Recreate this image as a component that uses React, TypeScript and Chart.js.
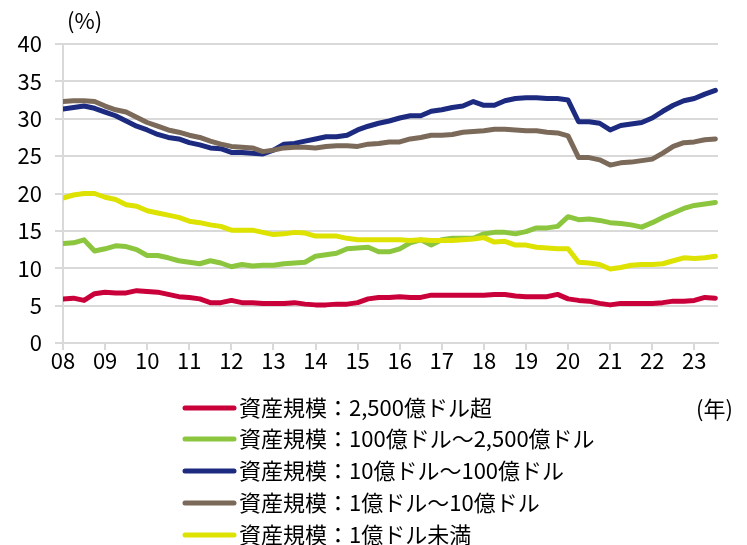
import React, { useEffect, useRef } from "react";
import { Chart, registerables } from "chart.js";

Chart.register(...registerables);

// Quarterly data, 2008Q1 .. 2023Q3 (63 quarters)
const yearLabels = ["08", "09", "10", "11", "12", "13", "14", "15", "16", "17", "18", "19", "20", "21", "22", "23"];
const yTicks = [0, 5, 10, 15, 20, 25, 30, 35, 40];

const seriesNames = [
  "資産規模：2,500億ドル超",
  "資産規模：100億ドル〜2,500億ドル",
  "資産規模：10億ドル〜100億ドル",
  "資産規模：1億ドル〜10億ドル",
  "資産規模：1億ドル未満",
];

const over250b = [
  5.9, 6.0, 5.7, 6.6, 6.8, 6.7, 6.7, 7.0, 6.9, 6.8, 6.5, 6.2, 6.1, 5.9, 5.4, 5.4,
  5.7, 5.4, 5.4, 5.3, 5.3, 5.3, 5.4, 5.2, 5.1, 5.1, 5.2, 5.2, 5.4, 5.9, 6.1, 6.1,
  6.2, 6.1, 6.1, 6.4, 6.4, 6.4, 6.4, 6.4, 6.4, 6.5, 6.5, 6.3, 6.2, 6.2, 6.2, 6.5,
  5.9, 5.7, 5.6, 5.3, 5.1, 5.3, 5.3, 5.3, 5.3, 5.4, 5.6, 5.6, 5.7, 6.1, 6.0,
];
const from10bTo250b = [
  13.3, 13.4, 13.8, 12.3, 12.6, 13.0, 12.9, 12.5, 11.7, 11.7, 11.4, 11.0, 10.8, 10.6, 11.0, 10.7,
  10.2, 10.5, 10.3, 10.4, 10.4, 10.6, 10.7, 10.8, 11.6, 11.8, 12.0, 12.6, 12.7, 12.8, 12.2, 12.2,
  12.6, 13.4, 13.8, 13.1, 13.8, 14.0, 14.0, 14.0, 14.6, 14.8, 14.8, 14.6, 14.9, 15.4, 15.4, 15.6,
  16.9, 16.5, 16.6, 16.4, 16.1, 16.0, 15.8, 15.5, 16.1, 16.8, 17.4, 18.0, 18.4, 18.6, 18.8,
];
const from1bTo10b = [
  31.3, 31.5, 31.7, 31.4, 30.9, 30.4, 29.7, 29.0, 28.5, 27.9, 27.5, 27.3, 26.8, 26.5, 26.1, 26.0,
  25.5, 25.5, 25.4, 25.3, 25.8, 26.6, 26.7, 27.0, 27.3, 27.6, 27.6, 27.8, 28.5, 29.0, 29.4, 29.7,
  30.1, 30.4, 30.4, 31.0, 31.2, 31.5, 31.7, 32.3, 31.8, 31.8, 32.4, 32.7, 32.8, 32.8, 32.7, 32.7,
  32.5, 29.6, 29.6, 29.4, 28.5, 29.1, 29.3, 29.5, 30.1, 31.0, 31.8, 32.4, 32.7, 33.3, 33.8,
];
const from100mTo1b = [
  32.3, 32.4, 32.4, 32.3, 31.7, 31.2, 30.9, 30.2, 29.5, 29.0, 28.5, 28.2, 27.8, 27.5, 27.0, 26.6,
  26.3, 26.2, 26.1, 25.6, 25.8, 26.1, 26.2, 26.2, 26.1, 26.3, 26.4, 26.4, 26.3, 26.6, 26.7, 26.9,
  26.9, 27.3, 27.5, 27.8, 27.8, 27.9, 28.2, 28.3, 28.4, 28.6, 28.6, 28.5, 28.4, 28.4, 28.2, 28.1,
  27.7, 24.8, 24.8, 24.5, 23.8, 24.1, 24.2, 24.4, 24.6, 25.4, 26.3, 26.8, 26.9, 27.2, 27.3,
];
const under100m = [
  19.4, 19.8, 20.0, 20.0, 19.5, 19.2, 18.5, 18.3, 17.7, 17.4, 17.1, 16.8, 16.3, 16.1, 15.8, 15.6,
  15.1, 15.1, 15.1, 14.8, 14.5, 14.6, 14.8, 14.7, 14.3, 14.3, 14.3, 14.0, 13.8, 13.8, 13.8, 13.8,
  13.8, 13.7, 13.8, 13.7, 13.7, 13.7, 13.8, 13.9, 14.1, 13.5, 13.6, 13.1, 13.1, 12.8, 12.7, 12.6,
  12.6, 10.8, 10.7, 10.5, 9.9, 10.1, 10.4, 10.5, 10.5, 10.6, 11.0, 11.4, 11.3, 11.4, 11.6,
];

const seriesValues = [over250b, from10bTo250b, from1bTo10b, from100mTo1b, under100m];
const seriesColors = ["#c9003a", "#8cc63e", "#1c2a80", "#7b6a59", "#dde200"];
const drawOrder = [4, 3, 2, 1, 0];

const FONT = "'Noto Sans CJK JP', 'Noto Sans', sans-serif";

const legendPlugin = {
  id: "customLegend",
  afterDraw(chart: any) {
    const ctx = chart.ctx;
    ctx.save();
    ctx.fillStyle = "#000";
    ctx.textBaseline = "middle";
    ctx.textAlign = "left";
    ctx.font = `22px ${FONT}`;
    ctx.fillText("(%)", 67, 21);
    ctx.fillText("(年)", 696, 409);
    const rowY = [408, 439, 471, 503, 535];
    seriesNames.forEach((name, i) => {
      const y = rowY[i];
      ctx.strokeStyle = seriesColors[i];
      ctx.lineWidth = 5;
      ctx.lineCap = "round";
      ctx.beginPath();
      ctx.moveTo(185, y);
      ctx.lineTo(234, y);
      ctx.stroke();
      ctx.fillStyle = "#000";
      ctx.fillText(name, 239, y);
    });
    ctx.restore();
  },
};

export default function App() {
  const canvasRef = useRef<HTMLCanvasElement | null>(null);

  useEffect(() => {
    const prevMargin = document.body.style.margin;
    document.body.style.margin = "0";
    const canvas = canvasRef.current!;
    const datasets = seriesValues.map((vals, i) => ({
      label: seriesNames[i],
      data: vals.map((v, q) => ({ x: q, y: v })),
      borderColor: seriesColors[i],
      backgroundColor: seriesColors[i],
      borderWidth: 5,
      pointRadius: 0,
      borderJoinStyle: "round" as const,
      borderCapStyle: "round" as const,
      tension: 0,
      order: drawOrder[i],
    }));

    const chart = new Chart(canvas, {
      type: "line",
      data: { datasets },
      options: {
        animation: false,
        responsive: false,
        maintainAspectRatio: false,
        layout: { padding: { left: 0, top: 44, right: 29, bottom: 162 } },
        plugins: { legend: { display: false }, tooltip: { enabled: false } },
        scales: {
          x: {
            type: "linear",
            min: 0,
            max: 62.25,
            afterBuildTicks: (scale: any) => {
              scale.ticks = yearLabels.map((_, k) => ({ value: k * 4 }));
            },
            afterFit: (scale: any) => {
              scale.height = 40;
            },
            ticks: {
              autoSkip: false,
              maxRotation: 0,
              padding: -3,
              color: "#000",
              font: { family: FONT, size: 22 },
              callback: (v: any) => yearLabels[Math.round(Number(v) / 4)] ?? "",
            },
            grid: { drawOnChartArea: false, tickLength: 7, color: "#d9d9d9", lineWidth: 2 },
            border: { color: "#d9d9d9", width: 2 },
          },
          y: {
            min: 0,
            max: 40,
            afterBuildTicks: (scale: any) => {
              scale.ticks = yTicks.map((v) => ({ value: v }));
            },
            afterFit: (scale: any) => {
              scale.width = 63;
            },
            ticks: {
              padding: 13,
              color: "#000",
              font: { family: FONT, size: 22 },
            },
            grid: { color: "#d9d9d9", lineWidth: 2, tickLength: 8 },
            border: { color: "#d9d9d9", width: 2 },
          },
        },
      },
      plugins: [legendPlugin],
    });
    return () => {
      chart.destroy();
      document.body.style.margin = prevMargin;
    };
  }, []);

  return (
    <div style={{ position: "absolute", left: 0, top: 0, width: 747, height: 545, background: "#fff" }}>
      <canvas ref={canvasRef} width={747} height={545} style={{ display: "block", width: 747, height: 545 }} />
    </div>
  );
}
